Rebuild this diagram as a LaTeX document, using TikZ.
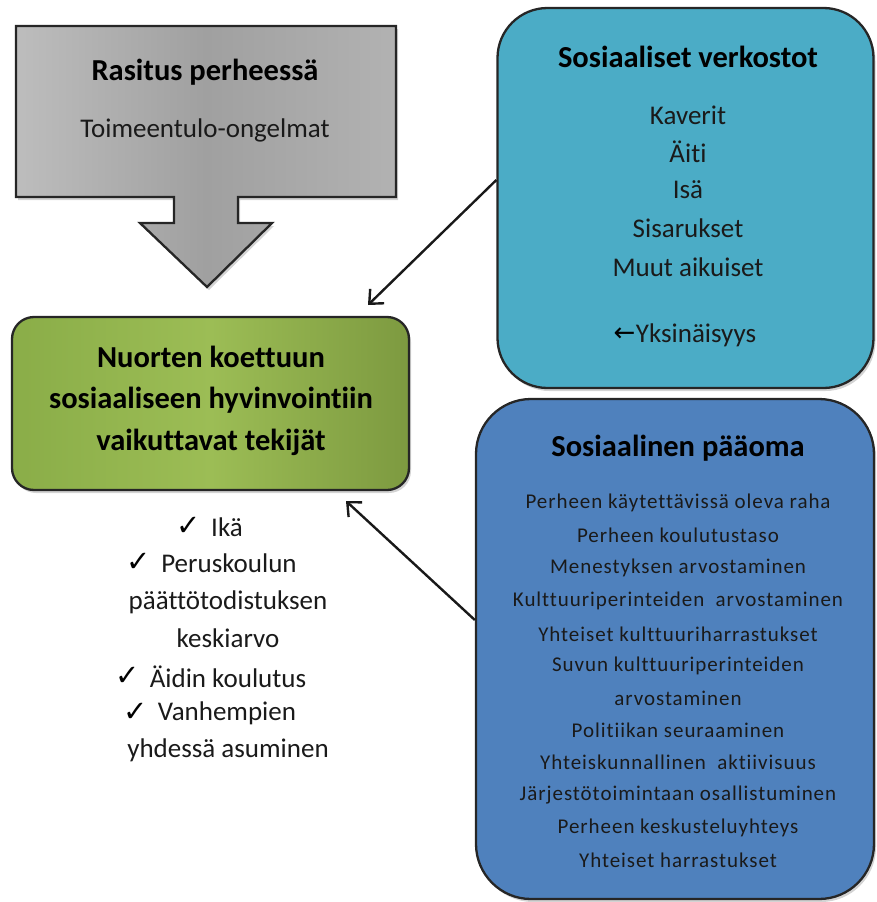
\documentclass[tikz,border=0pt]{standalone}
\usepackage{fontspec}
\setmainfont[Ligatures=NoCommon]{Carlito}
\newfontfamily\symfont{DejaVu Sans}
\usetikzlibrary{arrows.meta,shadows,calc}
\definecolor{greyL}{HTML}{BDBDBD}
\definecolor{greyM}{HTML}{A0A0A0}
\definecolor{greyR}{HTML}{B2B2B2}
\definecolor{greenL}{HTML}{8AAD48}
\definecolor{greenM}{HTML}{9CBD55}
\definecolor{greenR}{HTML}{7D9A40}
\definecolor{cyanbox}{HTML}{4BACC6}
\definecolor{bluebox}{HTML}{4F81BD}
\definecolor{txt}{HTML}{1A1A1A}
\tikzset{
  boxline/.style={draw=black!85, line width=2.3pt},
  shad/.style={drop shadow={opacity=0.35, shadow xshift=2pt, shadow yshift=-3pt}},
  txtnode/.style={inner sep=0pt, text=txt, font=\fontsize{27}{30}\selectfont},
  titlenode/.style={inner sep=0pt, text=black, font=\fontsize{30.5}{33}\selectfont\bfseries},
  smallnode/.style={inner sep=0pt, text=txt, font=\fontsize{21}{23}\selectfont\addfontfeatures{LetterSpace=4.5}},
  chk/.style={inner sep=0pt, anchor=east, text=black, font=\fontsize{29}{31}\selectfont\symfont},
  arr/.style={line width=2.4pt, draw=black!90, -{Straight Barb[length=11pt, width=20pt, line width=2.4pt]}}
}
\begin{document}
\begin{tikzpicture}[x=1pt, y=-1pt]
\useasboundingbox (0,0) rectangle (876,902);

% grey block arrow
\path[boxline, shad, shading=axis, left color=greyL, right color=greyR, middle color=greyM, line join=miter]
  (16,26) -- (396,26) -- (396,197) -- (238,197) -- (238,223) -- (272,223) -- (207,287)
  -- (140,223) -- (174,223) -- (174,197) -- (16,197) -- cycle;
\node[titlenode] (rt) at (205,72) {Rasitus perheessä};
\node[txtnode] (rs) at (205,130) {Toimeentulo-ongelmat};

% green box
\node[boxline, shad, rounded corners=22pt, minimum width=397pt, minimum height=173pt,
  left color=greenL, right color=greenR, middle color=greenM] (green) at (210.5,403.5) {};
\node[titlenode] (g1) at (211,357) {Nuorten koettuun};
\node[titlenode] (g2) at (211,400) {sosiaaliseen hyvinvointiin};
\node[titlenode] (g3) at (211,442) {vaikuttavat tekijät};

% checklist
\node[txtnode] (k1) at (227,527) {Ikä};
\node[txtnode] (k2) at (229,563) {Peruskoulun};
\node[txtnode] (k3) at (228,602) {päättötodistuksen};
\node[txtnode] (k4) at (228,638) {keskiarvo};
\node[txtnode] (k5) at (228,677) {Äidin koulutus};
\node[txtnode] (k6) at (227,713) {Vanhempien};
\node[txtnode] (k7) at (228,750) {yhdessä asuminen};
\node[chk] (c1) at ([xshift=-10pt,yshift=1pt]k1.west) {✓};
\node[chk] (c2) at ([xshift=-10pt,yshift=1pt]k2.west) {✓};
\node[chk] (c5) at ([xshift=-10pt,yshift=1pt]k5.west) {✓};
\node[chk] (c6) at ([xshift=-10pt,yshift=1pt]k6.west) {✓};

% cyan box
\node[boxline, shad, fill=cyanbox, rounded corners=50pt, minimum width=376pt, minimum height=380pt] (cyan) at (685.5,198) {};
\node[titlenode] (ct) at (688,57) {Sosiaaliset verkostot};
\node[txtnode] (c1t) at (688,115) {Kaverit};
\node[txtnode] (c2t) at (688,152) {Äiti};
\node[txtnode] (c3t) at (688,190) {Isä};
\node[txtnode] (c4t) at (688,228) {Sisarukset};
\node[txtnode] (c5t) at (688,267) {Muut aikuiset};
\node[txtnode] (c6t) at (696,335) {Yksinäisyys};
\node[inner sep=0pt, anchor=east, text=black, font=\fontsize{26}{28}\selectfont\symfont] (larr) at ([xshift=0pt]c6t.west) {←};

% blue box
\node[boxline, shad, fill=bluebox, rounded corners=55pt, minimum width=398pt, minimum height=500pt] (blue) at (675,649) {};
\node[titlenode] (bt) at (678,448) {Sosiaalinen pääoma};
\node[smallnode] (b1) at (678,503) {Perheen käytettävissä oleva raha};
\node[smallnode] (b2) at (678,535) {Perheen koulutustaso};
\node[smallnode] (b3) at (678,568) {Menestyksen arvostaminen};
\node[smallnode] (b4) at (678,601) {Kulttuuriperinteiden\ \ arvostaminen};
\node[smallnode] (b5) at (678,634) {Yhteiset kulttuuriharrastukset};
\node[smallnode] (b6) at (678,666) {Suvun kulttuuriperinteiden};
\node[smallnode] (b7) at (678,698) {arvostaminen};
\node[smallnode] (b8) at (678,730) {Politiikan seuraaminen};
\node[smallnode] (b9) at (678,762) {Yhteiskunnallinen\ \ aktiivisuus};
\node[smallnode] (b10) at (678,795) {Järjestötoimintaan osallistuminen};
\node[smallnode] (b11) at (678,828) {Perheen keskusteluyhteys};
\node[smallnode] (b12) at (678,860) {Yhteiset harrastukset};

% connectors
\coordinate (tipA) at (368,305);
\coordinate (tipB) at (346,501);
\draw[arr] ([yshift=18pt]cyan.west) -- (tipA);
\draw[arr] ([yshift=29pt]blue.west) -- (tipB);
\end{tikzpicture}
\end{document}
